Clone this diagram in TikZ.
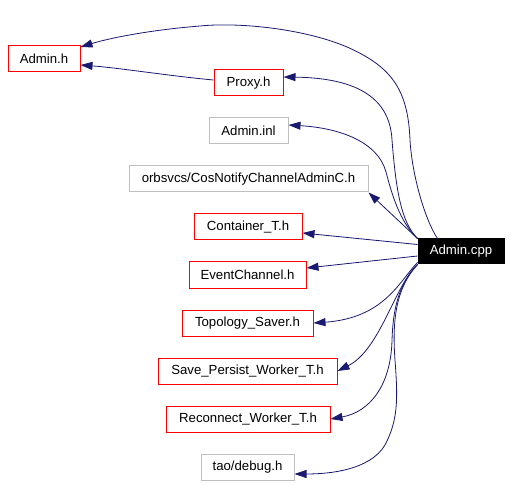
\documentclass[tikz,border=0pt]{standalone}
\usepackage{fontspec}
\setmainfont{Liberation Sans}
\usetikzlibrary{arrows.meta,calc}
\definecolor{edgeblue}{HTML}{191970}
\definecolor{boxgray}{HTML}{BFBFBF}
\begin{document}
\begin{tikzpicture}[x=1pt,y=-1pt,
  box/.style={draw, line width=1pt, minimum height=26pt, inner sep=0pt, font=\fontsize{13.2}{15}\selectfont},
  redbox/.style={box, draw=red},
  graybox/.style={box, draw=boxgray},
  cppbox/.style={box, fill=black, text=white, minimum height=25pt},
  edge/.style={draw=edgeblue, line width=0.8pt, -{Triangle[length=12pt,width=8pt]}},
  ]
\useasboundingbox (0,0) rectangle (511,486);
\node[redbox, minimum width=72pt] (adminh) at (44,59) {Admin.h};
\node[redbox, minimum width=69pt] (proxy) at (248.5,83) {Proxy.h};
\node[graybox, minimum width=79pt] (inl) at (248.5,131) {Admin.inl};
\node[graybox, minimum width=239pt] (cos) at (248.5,179) {orbsvcs/CosNotifyChannelAdminC.h};
\node[redbox, minimum width=108pt] (cont) at (248,227) {Container\_T.h};
\node[redbox, minimum width=117pt] (ev) at (247.5,275) {EventChannel.h};
\node[redbox, minimum width=131pt] (topo) at (247.5,323) {Topology\_Saver.h};
\node[redbox, minimum width=179pt] (save) at (247.5,371) {Save\_Persist\_Worker\_T.h};
\node[redbox, minimum width=164pt] (recon) at (248,419) {Reconnect\_Worker\_T.h};
\node[graybox, minimum width=93pt] (debug) at (247.5,467.5) {tao/debug.h};
\node[cppbox, minimum width=86pt] (cpp) at (461,251.5) {Admin.cpp};

% Admin.cpp -> Admin.h
\draw[edge] ($(cpp.north west)+(20,0)$) .. controls (425,220) and (412,175) .. (410,140)
  .. controls (408,88) and (390,66) .. (347,47)
  .. controls (305,29) and (240,22) .. (200,26)
  .. controls (150,30) and (110,38) .. ($(adminh.east)+(0,-12)$);
% Proxy.h -> Admin.h
\draw[edge] ($(proxy.west)+(0,-3)$) .. controls (170,76) and (120,68) .. ($(adminh.east)+(0,6)$);
% Admin.cpp -> Proxy.h
\draw[edge] (cpp.north west) .. controls (401,222) and (396,190) .. (392,140)
  .. controls (390,100) and (360,78) .. ($(proxy.east)+(0,-6)$);
% Admin.cpp -> Admin.inl
\draw[edge] (cpp.north west) .. controls (400,222) and (392,195) .. (386,172)
  .. controls (378,142) and (340,128) .. ($(inl.east)+(0,-6)$);
% Admin.cpp -> CosNotify
\draw[edge] (cpp.north west) -- (cos.south east);
% Admin.cpp -> Container_T.h
\draw[edge] ($(cpp.north west)+(0,6)$) -- ($(cont.east)+(0,6)$);
% Admin.cpp -> EventChannel.h
\draw[edge] ($(cpp.west)+(0,4.5)$) -- ($(ev.east)+(0,-7)$);
% Admin.cpp -> Topology_Saver.h
\draw[edge] ($(cpp.south west)+(0,-2)$) .. controls (400,280) and (385,318) .. (topo.east);
% Admin.cpp -> Save_Persist_Worker_T.h
\draw[edge] (cpp.south west) .. controls (395,285) and (380,350) .. (save.east);
% Admin.cpp -> Reconnect_Worker_T.h
\draw[edge] (cpp.south west) .. controls (398,285) and (393,310) .. (392,340)
  .. controls (391,385) and (370,412) .. (recon.east);
% Admin.cpp -> tao/debug.h
\draw[edge] (cpp.south west) .. controls (396,288) and (392,320) .. (395,360)
  .. controls (398,400) and (398,420) .. (385,445)
  .. controls (370,470) and (330,474) .. ($(debug.east)+(0,6.5)$);
\end{tikzpicture}
\end{document}
